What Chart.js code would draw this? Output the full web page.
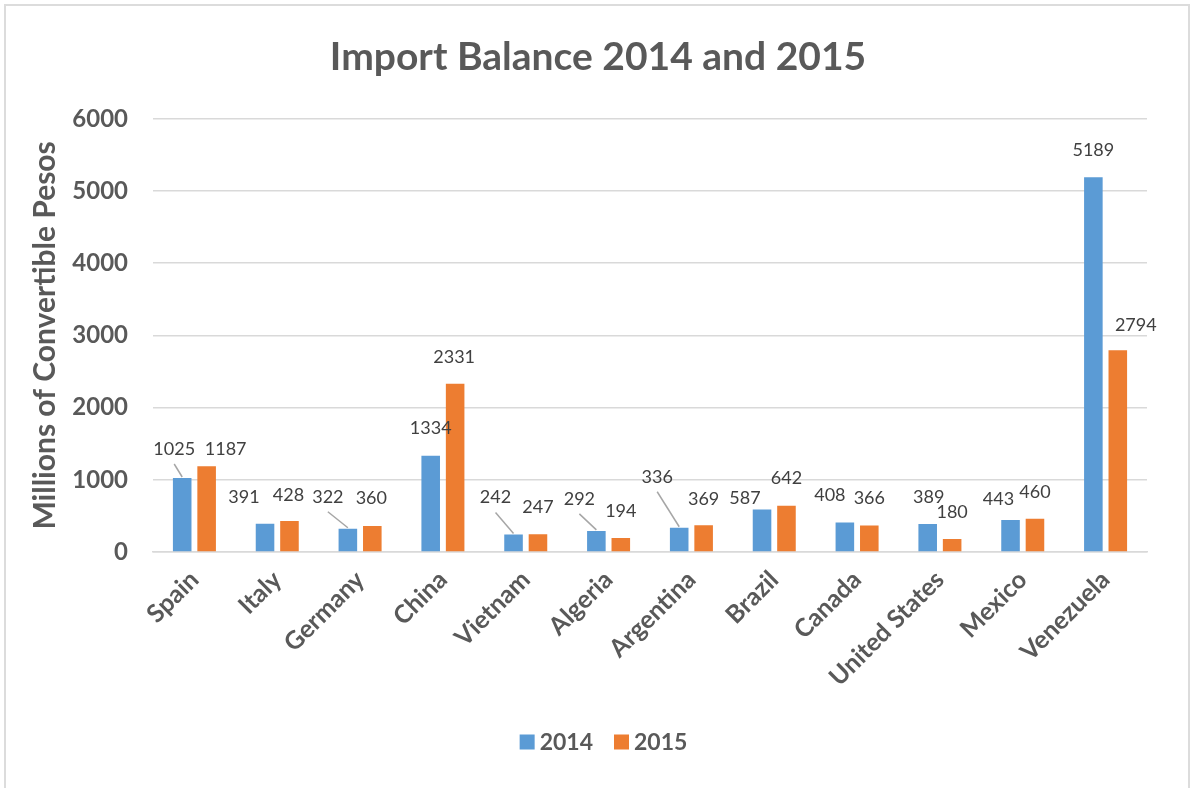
<!DOCTYPE html>
<html>
<head>
<meta charset="utf-8">
<title>Import Balance 2014 and 2015</title>
<script src="https://cdn.jsdelivr.net/npm/chart.js@4.4.1/dist/chart.umd.min.js"></script>
<style>
  html, body { margin: 0; padding: 0; background: #ffffff; }
  #wrap { position: relative; width: 1193px; height: 788px; overflow: hidden; }
  #frame {
    position: absolute; left: 4px; top: 4px; width: 1182px; height: 820px;
    border: 2px solid #dcdcdc; box-sizing: content-box; pointer-events: none;
  }
  #c { position: absolute; left: 0; top: 0; }
</style>
</head>
<body>
<div id="wrap">
  <div id="frame"></div>
  <canvas id="c" width="1193" height="788"></canvas>
</div>
<script>
// Import balance per trading partner, millions of convertible pesos
const countries = ['Spain', 'Italy', 'Germany', 'China', 'Vietnam', 'Algeria',
  'Argentina', 'Brazil', 'Canada', 'United States', 'Mexico', 'Venezuela'];
const imports2014 = [1025, 391, 322, 1334, 242, 292, 336, 587, 408, 389, 443, 5189];
const imports2015 = [1187, 428, 360, 2331, 247, 194, 369, 642, 366, 180, 460, 2794];
const yTicks = [0, 1000, 2000, 3000, 4000, 5000, 6000];

// Where each value label sits relative to the top centre of its bar (px)
const labelShift2014 = [[-8, -29], [-21, -27], [-20, -32], [0, -27], [-18, -37], [-17, -32],
  [-22, -51], [-17, -11], [-15, -27], [1, -27], [-12, -21], [0, -27]];
const labelShift2015 = [[19, -17], [-1, -26], [-1, -28], [-1, -27], [0, -27], [0, -27],
  [0, -26], [0, -27], [0, -27], [0, -27], [0, -27], [18, -25]];
// Labels pulled away from their bar get a connector line
const leader2014 = [true, false, true, false, true, true, true, false, false, false, false, false];
const leader2015 = [false, false, false, false, false, false, false, false, false, false, false, false];

const FONT = 'Lato, "Open Sans", "DejaVu Sans", sans-serif';
const GREY = '#595959';

// Value labels above the bars, with optional connector lines
const valueLabels = {
  id: 'valueLabels',
  afterDatasetsDraw(chart) {
    const ctx = chart.ctx;
    const shifts = [labelShift2014, labelShift2015];
    const leaders = [leader2014, leader2015];
    ctx.save();
    ctx.font = '18px ' + FONT;
    ctx.fillStyle = '#404040';
    ctx.textAlign = 'center';
    ctx.textBaseline = 'middle';
    chart.data.datasets.forEach((ds, di) => {
      const meta = chart.getDatasetMeta(di);
      meta.data.forEach((bar, i) => {
        const [dx, dy] = shifts[di][i];
        const lx = bar.x + dx;
        const ly = bar.y + dy;
        if (leaders[di][i]) {
          ctx.save();
          ctx.strokeStyle = '#a6a6a6';
          ctx.lineWidth = 1.5;
          ctx.beginPath();
          ctx.moveTo(lx, ly + 15);
          ctx.lineTo(bar.x, bar.y - 1);
          ctx.stroke();
          ctx.restore();
        }
        ctx.fillText(String(ds.data[i]), lx, ly);
      });
    });
    ctx.restore();
  }
};

// Compact legend row under the axis: square swatch, short gap, bold year
const bottomLegend = {
  id: 'bottomLegend',
  afterDraw(chart) {
    const ctx = chart.ctx;
    const box = 15, gap = 5, between = 21;
    ctx.save();
    ctx.font = 'bold 23px ' + FONT;
    ctx.textBaseline = 'middle';
    ctx.textAlign = 'left';
    const items = chart.data.datasets.map(ds => ({
      text: ds.label, color: ds.backgroundColor, w: ctx.measureText(ds.label).width
    }));
    let total = items.reduce((s, it) => s + box + gap + it.w, 0) + between * (items.length - 1);
    let x = chart.width / 2 + 7 - total / 2;
    const cy = chart.height - 46;
    items.forEach(it => {
      ctx.fillStyle = it.color;
      ctx.fillRect(x, cy - box / 2, box, box);
      x += box + gap;
      ctx.fillStyle = GREY;
      ctx.fillText(it.text, x, cy + 1);
      x += it.w + between;
    });
    ctx.restore();
  }
};

new Chart(document.getElementById('c'), {
  type: 'bar',
  data: {
    labels: countries,
    datasets: [
      { label: '2014', data: imports2014, backgroundColor: '#5B9BD5' },
      { label: '2015', data: imports2015, backgroundColor: '#ED7D31' }
    ]
  },
  options: {
    responsive: false,
    animation: false,
    events: [],
    layout: { padding: { left: 25, right: 22, top: 0, bottom: 67 } },
    datasets: { bar: { categoryPercentage: 0.59, barPercentage: 0.76 } },
    scales: {
      x: {
        grid: { display: false, drawTicks: false },
        border: { display: true, color: '#d9d9d9', width: 1.5 },
        ticks: {
          minRotation: 45, maxRotation: 45, padding: 13, autoSkip: false,
          color: GREY, font: { family: FONT, size: 25, weight: 'bold' }
        },
        afterFit(scale) { scale.height = 169; }
      },
      y: {
        min: 0, max: 6000,
        afterBuildTicks(scale) { scale.ticks = yTicks.map(v => ({ value: v })); },
        grid: { color: '#d9d9d9', lineWidth: 1.5, drawTicks: false },
        border: { display: false },
        ticks: {
          padding: 25, color: GREY, font: { family: FONT, size: 24, weight: 'bold' },
          callback: v => String(v)
        },
        title: {
          display: true, text: 'Millions of Convertible Pesos', color: GREY,
          font: { family: FONT, size: 30, weight: 'bold' }, padding: { top: 2, bottom: 0 }
        },
        afterFit(scale) { scale.width = 128; }
      },
      // empty margin on the right of the plot
      yRight: {
        position: 'right', display: true, min: 0, max: 6000,
        grid: { display: false, drawTicks: false },
        border: { display: false },
        ticks: { display: false },
        afterFit(scale) { scale.width = 24; }
      }
    },
    plugins: {
      title: {
        display: true, text: 'Import Balance 2014 and 2015', color: GREY,
        font: { family: FONT, size: 39, weight: 'bold', lineHeight: 1.2 },
        padding: { top: 34, bottom: 38 }
      },
      legend: { display: false },
      tooltip: { enabled: false }
    }
  },
  plugins: [valueLabels, bottomLegend]
});
</script>
</body>
</html>
